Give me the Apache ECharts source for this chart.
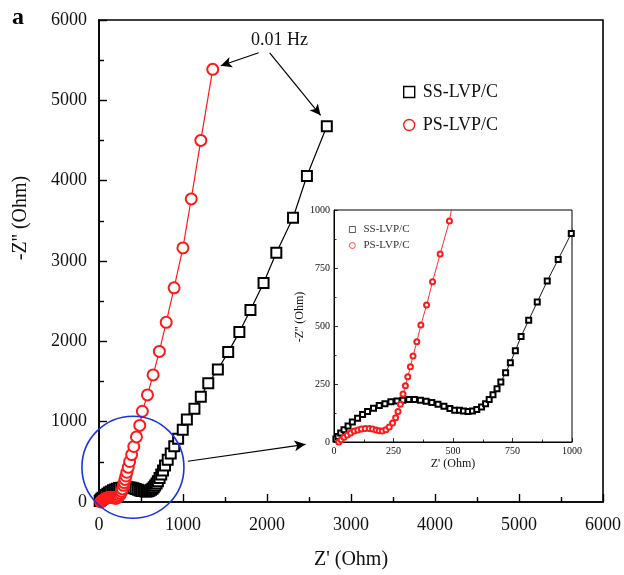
<!DOCTYPE html>
<html>
<head>
<meta charset="utf-8">
<script src="https://cdn.jsdelivr.net/npm/echarts@6/dist/echarts.min.js"></script>
<style>
  html, body { margin: 0; padding: 0; background: #fff; }
  #main { width: 624px; height: 575px; }
</style>
</head>
<body>
<div id="main"></div>
<script>
// Nyquist data, [Z', -Z''] in Ohm, from high frequency to 0.01 Hz
const ssData = [
  [8, 13], [17, 24], [28, 39], [42, 53], [59, 69], [77, 86], [99, 102], [120, 118],
  [141, 132], [166, 145], [190, 157], [214, 165], [239, 173], [265, 177], [289, 180],
  [314, 183], [338, 183], [363, 180], [387, 176], [411, 170], [437, 163], [462, 154],
  [487, 144], [507, 137], [527, 137], [544, 134], [563, 132], [582, 134], [600, 140],
  [620, 151], [637, 165], [652, 183], [668, 204], [685, 230], [701, 259], [721, 298],
  [741, 342], [762, 393], [786, 455], [818, 525], [854, 603], [896, 694], [942, 787],
  [997, 899], [1046, 1026], [1136, 1161], [1212, 1310], [1301, 1478], [1415, 1649],
  [1538, 1866], [1671, 2115], [1803, 2390], [1959, 2725], [2111, 3104], [2310, 3538],
  [2475, 4058], [2712, 4677]
];
const psData = [
  [20, 0], [30, 10], [42, 20], [56, 30], [70, 39], [85, 47], [100, 52], [115, 56],
  [131, 58], [148, 58], [162, 56], [177, 52], [190, 48], [203, 47], [218, 53],
  [232, 65], [246, 82], [259, 105], [269, 132], [279, 163], [290, 207], [300, 242],
  [310, 281], [321, 324], [332, 371], [348, 432], [365, 504], [389, 590], [414, 691],
  [446, 810], [485, 953], [516, 1130], [577, 1333], [644, 1582], [719, 1875],
  [800, 2237], [894, 2666], [999, 3163], [1098, 3773], [1212, 4501], [1354, 5386]
];
const seriesNames = ['SS-LVP/C', 'PS-LVP/C'];
const mainTicks = [0, 1000, 2000, 3000, 4000, 5000, 6000];
const insetTicks = [0, 250, 500, 750, 1000];

// annotations (data coords of main plot)
const hzText = '0.01 Hz';
const hzTextAt = [2150, 5752];
const hzArrows = [
  [[1901, 5592], [1450, 5431]],
  [[2032, 5592], [2638, 4813]],
  [[1057, 507], [2458, 718]]
];
const zoomCircleAt = [404, 433];

const serif = '"Liberation Serif", "Times New Roman", serif';
const ink = '#111';
const red = '#ff1a1a';

const chart = echarts.init(document.getElementById('main'));

function axis(grid, ticks, big, isY) {
  return {
    type: 'value',
    gridIndex: grid,
    min: ticks[0],
    max: ticks[ticks.length - 1],
    interval: ticks[1] - ticks[0],
    z: grid ? 6 : 0,
    axisLine: { show: true, onZero: false, lineStyle: { color: '#000', width: big ? 1.6 : 1 } },
    axisTick: { show: true, inside: true, length: big ? 8 : 4, lineStyle: { color: '#000', width: big ? 1.4 : 0.8 } },
    minorTick: { show: true, splitNumber: 2, length: big ? 5 : 2.5, lineStyle: { color: '#000', width: big ? 1.4 : 0.8 } },
    splitLine: { show: false },
    axisLabel: {
      color: ink,
      fontFamily: serif,
      fontSize: big ? 18 : 10,
      margin: big ? (isY ? 12 : 14) : 4,
      formatter: v => String(v)
    }
  };
}

function series(name, data, grid, sym, color) {
  const big = grid === 0;
  return {
    name: name,
    type: 'line',
    xAxisIndex: grid,
    yAxisIndex: grid,
    data: data,
    z: big ? 2 : 7,
    symbol: sym,
    symbolSize: big ? (sym === 'emptyCircle' ? 11 : 10) : 5,
    showAllSymbol: true,
    clip: true,
    color: color,
    itemStyle: { color: color, borderWidth: big ? 1.3 : 0.8 },
    lineStyle: { color: color, width: big ? 1.2 : 0.9 },
    emphasis: { disabled: true }
  };
}

const ssMain = series(seriesNames[0], ssData, 0, 'emptyRect', '#000');
ssMain.markLine = {
  silent: true,
  symbol: ['none', 'arrow'],
  symbolSize: [8, 11],
  lineStyle: { color: '#000', width: 1.2, type: 'solid' },
  label: { show: false },
  data: hzArrows.map(a => [{ coord: a[0] }, { coord: a[1] }])
};

const option = {
  animation: false,
  backgroundColor: '#fff',
  grid: [
    { left: 99, top: 20, width: 505, height: 485, show: true, borderColor: '#000', borderWidth: 1.6, backgroundColor: 'transparent' },
    { left: 334, top: 210, width: 238, height: 232, show: true, z: 5, borderColor: '#000', borderWidth: 1, backgroundColor: '#fff' }
  ],
  xAxis: [
    Object.assign(axis(0, mainTicks, true, false), {
      name: "Z' (Ohm)", nameLocation: 'middle', nameGap: 48,
      nameTextStyle: { fontFamily: serif, fontSize: 20, color: ink }
    }),
    Object.assign(axis(1, insetTicks, false, false), {
      name: "Z' (Ohm)", nameLocation: 'middle', nameGap: 16,
      nameTextStyle: { fontFamily: serif, fontSize: 12, color: ink }
    })
  ],
  yAxis: [
    Object.assign(axis(0, mainTicks, true, true), {
      name: "-Z'' (Ohm)", nameLocation: 'middle', nameGap: 68,
      nameTextStyle: { fontFamily: serif, fontSize: 20, color: ink, padding: [0, 0, 0, 86] }
    }),
    Object.assign(axis(1, insetTicks, false, true), {
      name: "-Z'' (Ohm)", nameLocation: 'middle', nameGap: 28,
      nameTextStyle: { fontFamily: serif, fontSize: 12, color: ink, padding: [0, 0, 0, 18] }
    })
  ],
  legend: [
    {
      orient: 'vertical', left: 398, top: 78, itemGap: 15,
      itemWidth: 11, itemHeight: 11, selectedMode: false,
      textStyle: { fontFamily: serif, fontSize: 18, color: ink, padding: [0, 0, 0, 3] },
      data: [
        { name: seriesNames[0], icon: 'rect', itemStyle: { color: '#fff', borderColor: '#000', borderWidth: 1.4 } },
        { name: seriesNames[1], icon: 'circle', itemStyle: { color: '#fff', borderColor: red, borderWidth: 1.4 } }
      ]
    },
    {
      orient: 'vertical', left: 344, top: 219, itemGap: 5, z: 8,
      itemWidth: 6, itemHeight: 6, selectedMode: false,
      textStyle: { fontFamily: serif, fontSize: 11, color: '#333', padding: [0, 0, 0, 3] },
      data: [
        { name: seriesNames[0], icon: 'rect', itemStyle: { color: '#fff', borderColor: '#333', borderWidth: 0.8 } },
        { name: seriesNames[1], icon: 'circle', itemStyle: { color: '#fff', borderColor: red, borderWidth: 0.8 } }
      ]
    }
  ],
  series: [
    ssMain,
    series(seriesNames[1], psData, 0, 'emptyCircle', red),
    series(seriesNames[0], ssData, 1, 'emptyRect', '#000'),
    series(seriesNames[1], psData, 1, 'emptyCircle', red)
  ]
};

chart.setOption(option);

// place annotations from data coordinates
const hzPos = chart.convertToPixel({ gridIndex: 0 }, hzTextAt);
const circlePos = chart.convertToPixel({ gridIndex: 0 }, zoomCircleAt);

chart.setOption({
  graphic: [
    {
      type: 'text', left: 12, top: 6, z: 20,
      style: { text: 'a', font: 'bold 24px ' + serif, fill: '#000' }
    },
    {
      type: 'text', x: hzPos[0], y: hzPos[1], z: 20,
      style: { text: hzText, font: '18px ' + serif, fill: ink, align: 'center', verticalAlign: 'middle' }
    },
    {
      type: 'circle', z: 20, silent: true,
      shape: { cx: circlePos[0], cy: circlePos[1], r: 51 },
      style: { fill: 'none', stroke: '#1a35e0', lineWidth: 1.6 }
    }
  ]
});
</script>
</body>
</html>
